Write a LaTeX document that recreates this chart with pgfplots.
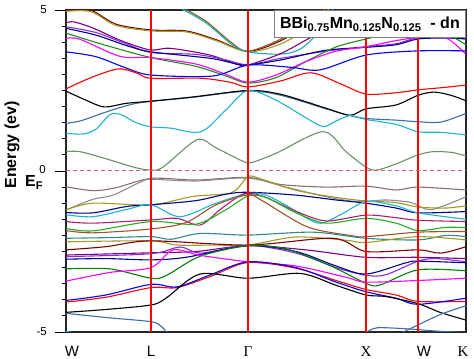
\documentclass[border=0pt]{standalone}
\usepackage{pgfplots}
\pgfplotsset{compat=1.18}
\usepackage{fontspec}
\setmainfont{Liberation Sans}
\newfontfamily\seriffont{Liberation Serif}
\definecolor{cOlive}{HTML}{A09A28}
\definecolor{cMaroon}{HTML}{800000}
\definecolor{cBrown}{HTML}{8B5A2B}
\definecolor{cTeal}{HTML}{1FA5B0}
\definecolor{cPurple}{HTML}{800080}
\definecolor{cViolet}{HTML}{8A2BE2}
\definecolor{cNavy}{HTML}{00008B}
\definecolor{cGreen}{HTML}{1E8C1E}
\definecolor{cMag}{HTML}{FF00FF}
\definecolor{cSteel}{HTML}{3D6FA8}
\definecolor{cCyan}{HTML}{1EB4D2}
\definecolor{cGG}{HTML}{6E8F6E}
\definecolor{cMauve}{HTML}{8B6F6F}
\definecolor{cGray}{HTML}{8C8C8C}
\definecolor{cCrim}{HTML}{B0206A}
\definecolor{cLGreen}{HTML}{22B022}
\definecolor{cSienna}{HTML}{A0522D}
\definecolor{cDTeal}{HTML}{2E8B8B}
\definecolor{cDGreen}{HTML}{008000}
\definecolor{cZero}{HTML}{E06070}
\begin{document}
\begin{tikzpicture}
\useasboundingbox (-66bp,-27bp) rectangle (408bp,332bp);
\begin{axis}[
  at={(0,0)}, anchor=south west,
  scale only axis, width=400bp, height=322bp,
  xmin=0, xmax=400, ymin=-5, ymax=5,
  axis line style={line width=1.2bp, black!85},
  xtick={0,85,182,300,352,400},
  xticklabels={{\hspace*{12bp}W},L,{\seriffont Γ},{\seriffont X},{\hspace*{12bp}W},{{\seriffont K}\hspace*{6bp}}},
  xtick style={draw=none},
  ytick={-5,0,5}, yticklabels={},
  minor ytick={-4.5,-4,...,4.5},
  tick align=outside, ytick pos=left, xtick pos=bottom,
  major tick length=11bp, minor tick length=4bp,
  ytick style={line width=0.9bp, black},
  xticklabel style={font=\fontsize{15bp}{15bp}\selectfont},
  every axis plot/.append style={line width=1.1bp, smooth},
]
% conduction bands
\addplot[cMaroon] coordinates {(0,5.02)(25,4.99)(50,4.56)(85,4.38)(120,4.35)(150,4.08)(182,3.72)(215,4.05)(245,4.65)(262,5.1)};
\addplot[cOlive] coordinates {(0,4.96)(25,4.95)(50,4.52)(85,4.35)(120,4.32)(150,4.05)(182,3.70)(215,3.95)(245,4.5)(265,5.1)};
\addplot[cBrown] coordinates {(115,5.1)(140,4.65)(165,4.0)(182,3.72)(215,4.1)(245,4.7)(262,5.1)};
\addplot[cTeal] coordinates {(112,5.1)(140,4.6)(165,3.95)(182,3.70)(215,3.63)(235,3.8)(255,4.4)(268,5.1)};
\addplot[cPurple] coordinates {(0,4.6)(8,4.63)(27,4.44)(55,4.05)(84,3.76)(104,3.81)(144,3.6)(171,3.31)(182,3.29)(215,3.65)(245,4.15)(270,4.5)(300,4.65)(352,4.7)(400,4.6)};
\addplot[cViolet] coordinates {(0,4.48)(30,4.3)(60,3.95)(85,3.68)(130,3.62)(160,3.45)(182,3.3)(215,3.5)(260,3.72)(300,3.86)(330,3.95)(352,4.14)(380,4.15)(400,4.1)};
\addplot[cNavy] coordinates {(0,4.43)(30,4.22)(60,3.9)(85,3.7)(144,3.5)(171,3.32)(182,3.29)(215,3.45)(260,3.75)(300,3.84)(330,3.92)(352,4.1)(380,4.13)(400,4.1)};
\addplot[cGreen] coordinates {(0,4.28)(40,3.9)(85,3.52)(130,3.25)(160,2.95)(182,2.73)(210,2.9)(240,3.4)(270,3.85)(300,4.1)(330,4.3)(352,4.35)(380,4.25)(400,3.92)};
\addplot[cMag] coordinates {(0,4.12)(14,4.09)(54,3.56)(85,3.52)(130,3.32)(160,3.0)(182,2.76)(210,2.98)(240,3.4)(270,3.72)(300,3.86)(330,4.05)(352,4.14)(380,4.13)(400,3.62)};
\addplot[blue] coordinates {(0,3.70)(30,3.55)(60,3.2)(85,2.98)(147,2.95)(182,3.29)(225,3.22)(254,3.14)(300,3.6)(352,3.73)(400,3.73)};
\addplot[red] coordinates {(0,2.55)(25,2.9)(52,3.17)(70,3.05)(85,2.88)(135,2.88)(165,2.75)(182,2.61)(215,2.8)(245,3.05)(275,2.7)(300,2.39)(330,2.43)(352,2.52)(380,2.6)(400,2.67)};
\addplot[cSteel] coordinates {(0,1.48)(15,1.56)(37,1.8)(55,1.98)(70,2.1)(85,2.16)(127,2.29)(182,2.48)(215,2.35)(260,1.93)(284,1.72)(300,1.63)(330,1.58)(352,1.53)(375,1.52)(400,1.79)};
\addplot[black] coordinates {(0,2.48)(20,2.2)(38,1.99)(60,2.1)(85,2.17)(127,2.3)(182,2.5)(215,2.38)(260,1.95)(284,1.73)(300,1.93)(330,2.05)(352,2.35)(368,2.45)(385,2.35)(400,2.18)};
\addplot[cCyan] coordinates {(0,1.17)(17,1.15)(30,1.3)(44,1.75)(55,1.75)(70,1.5)(85,1.37)(105,1.33)(127,1.2)(140,1.3)(160,1.9)(182,2.5)(210,2.2)(240,1.65)(257,1.38)(270,1.55)(284,1.72)(300,1.6)(330,1.45)(352,1.22)(375,1.2)(400,1.12)};
\addplot[cGG] coordinates {(0,0.6)(14,0.6)(40,0.38)(70,0.1)(85,0.03)(97,0.12)(131,0.97)(150,0.72)(175,0.33)(185,0.26)(210,0.55)(257,1.22)(280,0.6)(300,0.12)(311,0.03)(330,0.22)(352,0.5)(367,0.6)(385,0.58)(400,0.47)};
% valence bands
\addplot[cMauve] coordinates {(0,-0.49)(27,-0.61)(50,-0.52)(85,-0.23)(130,-0.28)(182,-0.2)(215,-0.42)(260,-0.5)(300,-0.47)(330,-0.59)(352,-0.5)(400,-0.59)};
\addplot[cGray] coordinates {(0,-1.21)(27,-0.88)(47,-0.75)(74,-0.35)(85,-0.26)(130,-0.31)(182,-0.22)(220,-0.5)(260,-0.8)(291,-0.95)(320,-0.9)(345,-0.98)(365,-1.2)(400,-0.8)};
\addplot[cOlive] coordinates {(0,-1.21)(27,-1.0)(85,-1.05)(127,-0.79)(165,-0.68)(178,-0.3)(184,-0.15)(200,-0.3)(230,-0.6)(270,-0.82)(300,-0.93)(330,-0.98)(352,-1.12)(380,-1.15)(400,-1.08)};
\addplot[cNavy] coordinates {(0,-1.29)(27,-1.3)(61,-1.1)(85,-1.05)(130,-0.92)(160,-0.72)(182,-0.66)(230,-0.75)(270,-0.9)(300,-1.0)(330,-1.15)(352,-1.3)(400,-1.26)};
\addplot[cCyan] coordinates {(0,-1.36)(27,-1.42)(60,-1.2)(85,-1.05)(114,-1.42)(150,-1.0)(182,-0.7)(200,-0.75)(222,-1.1)(252,-1.62)(275,-1.35)(300,-0.95)(330,-1.08)(352,-1.3)(400,-1.5)};
\addplot[cCrim] coordinates {(0,-1.57)(27,-1.62)(85,-1.52)(111,-1.47)(134,-1.68)(154,-1.2)(172,-0.8)(182,-0.68)(200,-0.82)(230,-1.25)(260,-1.55)(300,-1.37)(330,-1.45)(352,-1.53)(400,-1.57)};
\addplot[cLGreen] coordinates {(0,-1.78)(27,-1.86)(85,-1.57)(130,-1.65)(160,-1.2)(182,-0.78)(200,-0.82)(230,-1.3)(260,-1.62)(300,-1.47)(330,-1.62)(352,-1.85)(380,-1.75)(400,-1.76)};
\addplot[cSienna] coordinates {(0,-1.85)(27,-1.92)(85,-1.8)(120,-1.6)(150,-1.05)(182,-0.74)(195,-0.9)(241,-1.73)(284,-2.0)(300,-2.04)(352,-1.9)(400,-1.88)};
\addplot[cDTeal] coordinates {(0,-2.09)(40,-2.07)(85,-2.04)(105,-2.12)(134,-1.94)(182,-1.99)(247,-1.9)(300,-2.09)(352,-2.14)(380,-2.0)(400,-2.04)};
\addplot[cOlive] coordinates {(0,-2.2)(85,-2.17)(111,-2.3)(150,-2.3)(182,-2.3)(230,-2.05)(280,-2.15)(300,-2.22)(352,-2.04)(400,-2.14)};
\addplot[cMaroon] coordinates {(0,-2.45)(40,-2.35)(85,-2.17)(182,-2.3)(267,-2.09)(300,-2.5)(352,-2.45)(375,-2.55)(400,-2.35)};
\addplot[cPurple] coordinates {(0,-2.61)(85,-2.54)(130,-2.5)(182,-2.32)(240,-2.45)(300,-2.68)(352,-2.68)(400,-2.72)};
\addplot[cViolet] coordinates {(0,-2.66)(85,-2.57)(114,-2.36)(135,-2.55)(182,-2.31)(230,-2.55)(270,-3.0)(300,-3.24)(320,-3.22)(352,-2.8)(370,-2.72)(400,-2.82)};
\addplot[cNavy] coordinates {(0,-2.74)(40,-2.72)(85,-2.76)(120,-2.68)(182,-2.32)(230,-2.5)(270,-2.95)(300,-3.2)(340,-2.85)(352,-2.8)(400,-2.85)};
\addplot[cDGreen] coordinates {(0,-3.04)(44,-3.04)(85,-3.33)(100,-3.25)(134,-2.65)(182,-2.32)(220,-2.42)(265,-2.95)(300,-3.49)(314,-3.54)(352,-3.07)(400,-3.1)};
\addplot[cMag] coordinates {(0,-3.42)(44,-3.15)(85,-3.0)(107,-2.45)(134,-2.62)(182,-2.82)(230,-2.95)(280,-3.3)(300,-3.45)(352,-3.4)(400,-3.33)};
\addplot[red] coordinates {(0,-4.07)(40,-3.92)(85,-3.62)(111,-3.62)(144,-3.28)(182,-2.84)(230,-3.02)(270,-3.4)(300,-3.68)(330,-3.85)(352,-4.05)(400,-4.05)};
\addplot[blue] coordinates {(0,-4.02)(40,-3.85)(85,-3.52)(111,-3.6)(144,-3.23)(182,-2.82)(230,-3.0)(270,-3.45)(300,-3.75)(330,-3.95)(352,-4.14)(400,-3.95)};
\addplot[black] coordinates {(0,-4.39)(40,-4.3)(85,-4.16)(100,-3.95)(134,-3.2)(182,-3.33)(234,-3.18)(270,-3.55)(300,-3.85)(320,-3.9)(352,-4.12)(375,-4.4)(400,-4.63)};
\addplot[cSteel] coordinates {(0,-4.42)(40,-4.55)(85,-4.68)(95,-4.82)(102,-5.05)};
\addplot[cSteel] coordinates {(334,-5.05)(352,-4.78)(375,-4.45)(400,-4.18)};
\addplot[cSteel] coordinates {(300,-5.02)(311,-4.87)(340,-4.9)(370,-4.97)(400,-5.02)};
\addplot[cCyan] coordinates {(0,-4.98)(12,-5.05)};
% high-symmetry lines and Fermi level
\addplot[red, line width=1.2bp, sharp plot] coordinates {(85,-5)(85,5)};
\addplot[red, line width=1.2bp, sharp plot] coordinates {(182,-5)(182,5)};
\addplot[red, line width=1.2bp, sharp plot] coordinates {(300,-5)(300,5)};
\addplot[red, line width=1.2bp, sharp plot] coordinates {(352,-5)(352,5)};
\addplot[cZero, line width=1bp, sharp plot, dash pattern=on 4bp off 3bp] coordinates {(0,0)(400,0)};
\end{axis}
\node[draw=gray, fill=white, line width=1.2bp, anchor=north east, minimum width=191bp, minimum height=27bp, inner sep=2bp,
  font=\fontsize{16bp}{18bp}\selectfont\bfseries] at (400bp,322bp)
  {BBi\textsubscript{0.75}Mn\textsubscript{0.125}N\textsubscript{0.125}\ \ - dn};
\begin{scope}[every node/.style={font=\fontsize{11.5bp}{12bp}\selectfont, anchor=east, inner sep=0pt}]
\node at (-19bp,322bp) {5};
\node at (-20bp,162bp) {0};
\node at (-19bp,0bp) {-5};
\end{scope}
\node[rotate=90, font=\fontsize{16bp}{18bp}\selectfont\bfseries] at (-54bp,187bp) {Energy (ev)};
\node[anchor=base west, inner sep=0pt, font=\fontsize{16bp}{18bp}\selectfont\bfseries] at (-41bp,145bp) {E\textsubscript{F}};
\end{tikzpicture}
\end{document}
